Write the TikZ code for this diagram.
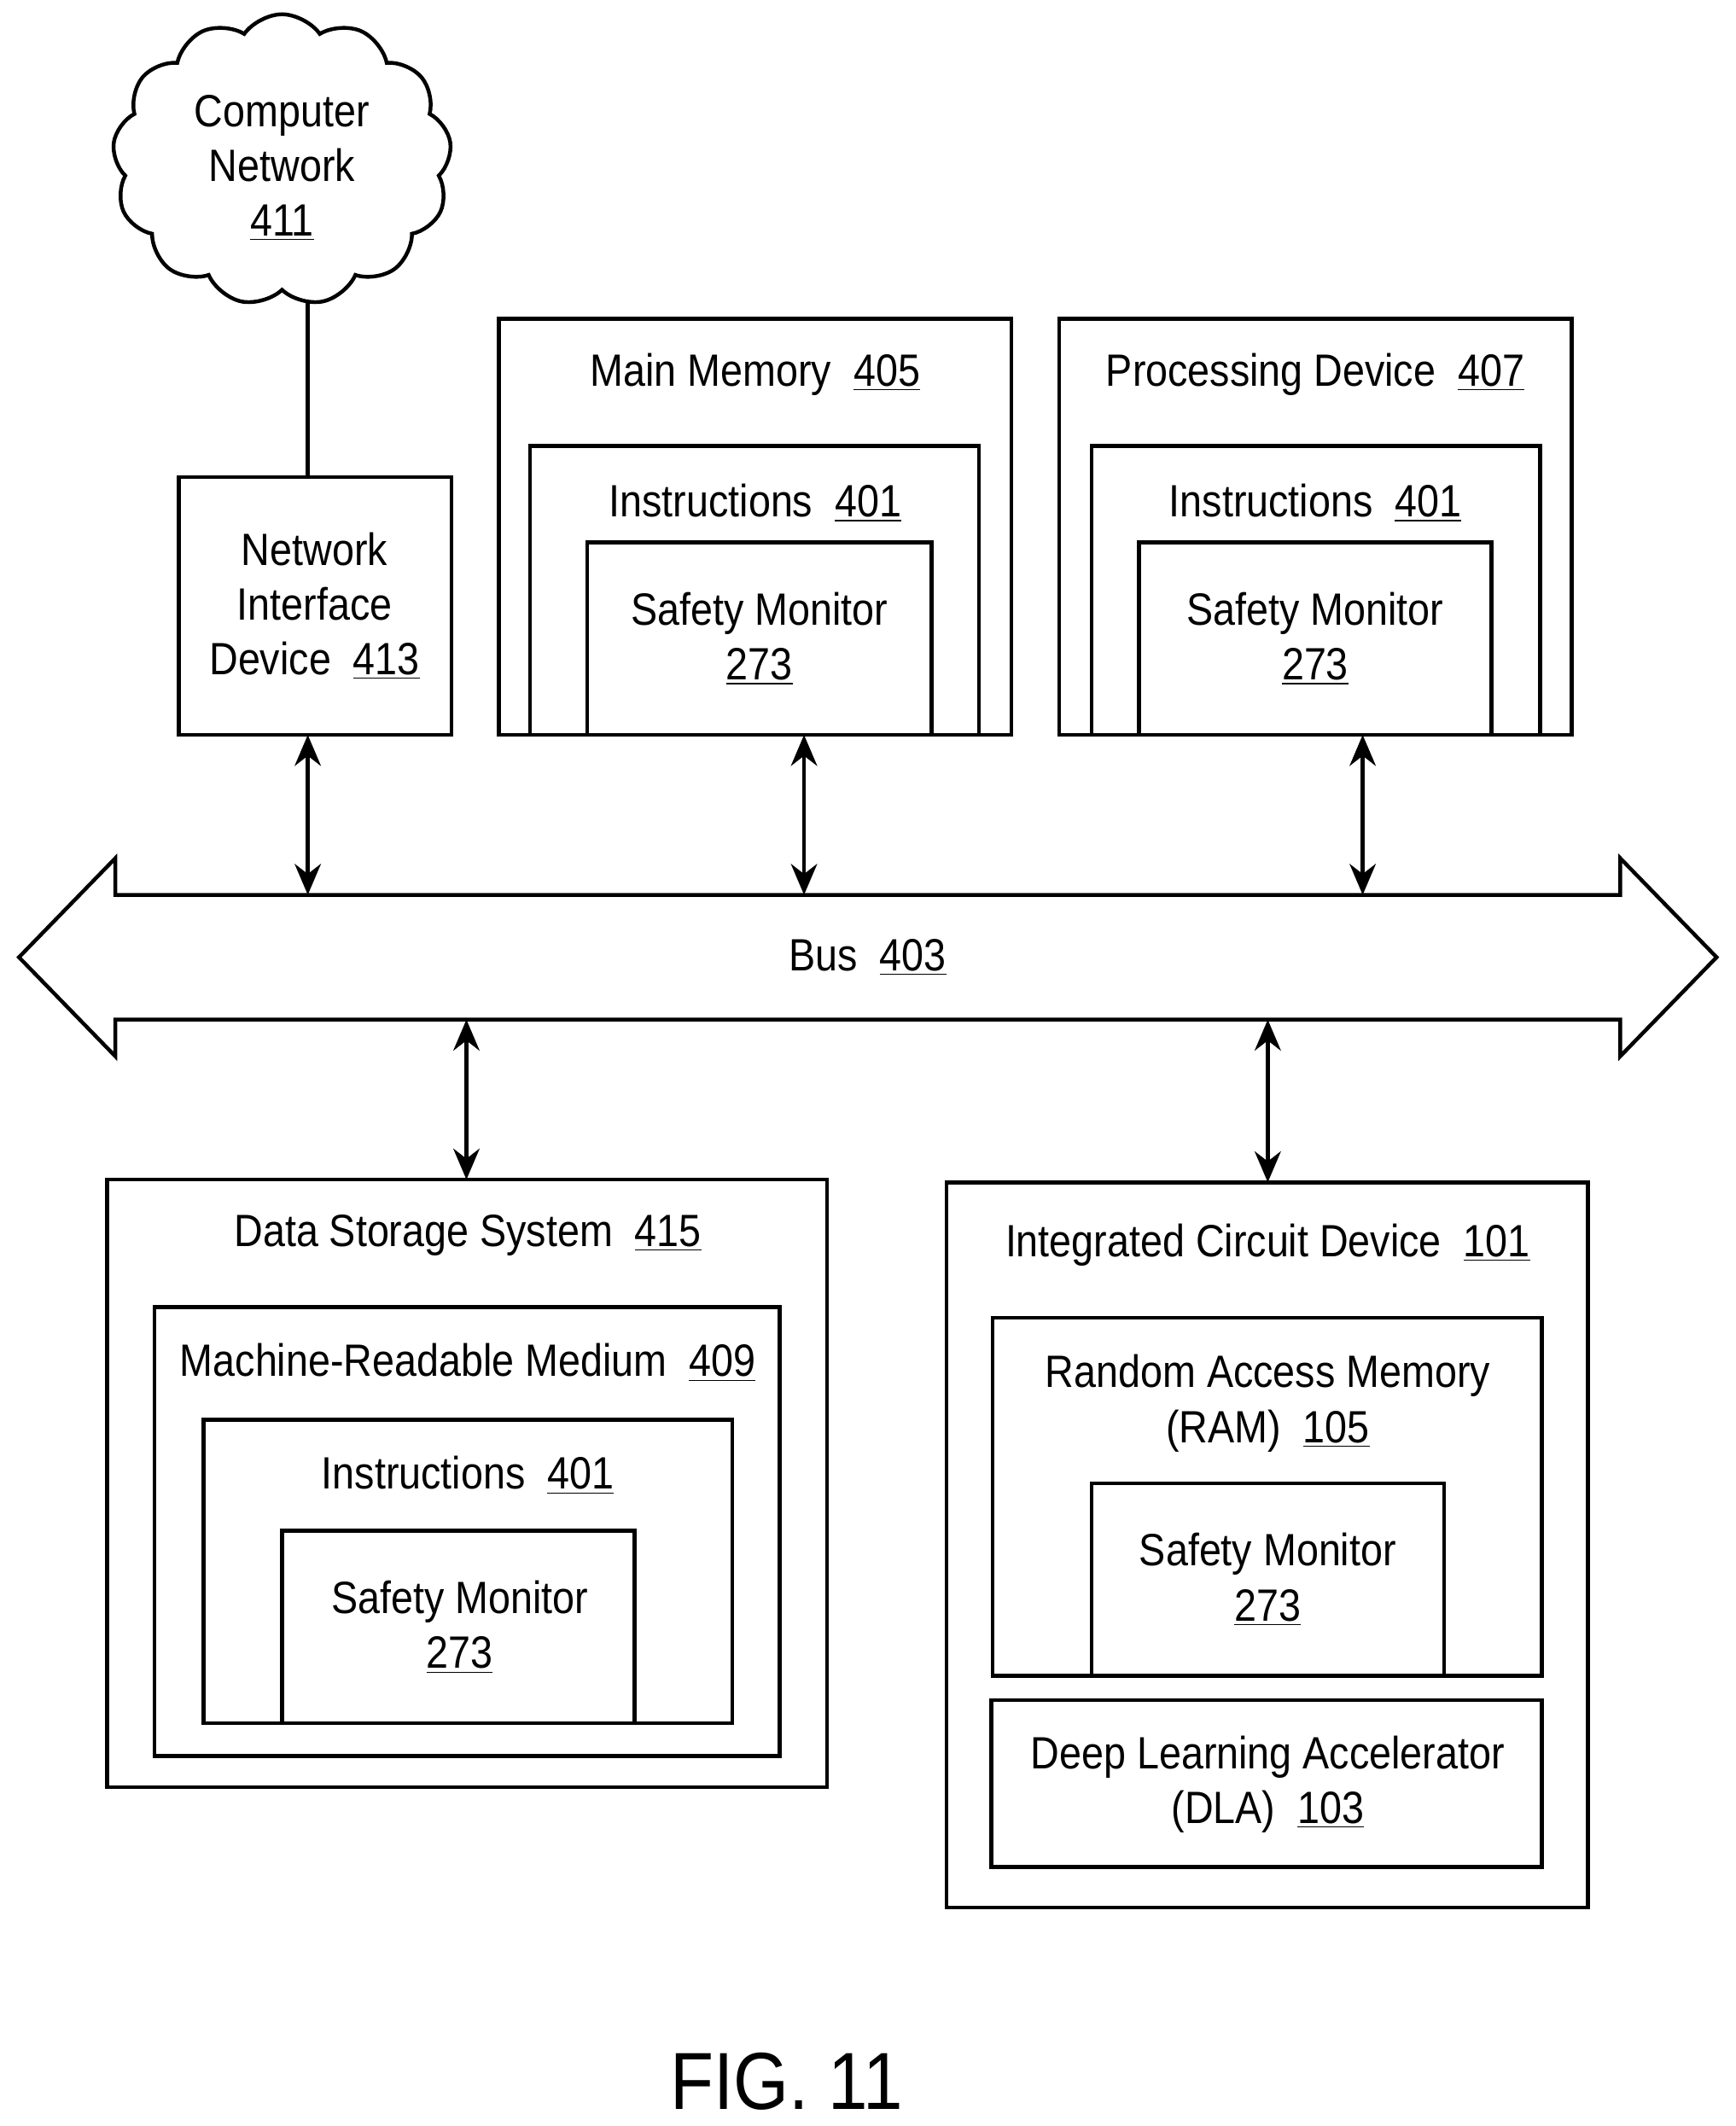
\documentclass[tikz,border=0pt]{standalone}
\usepackage{fontspec}
\setmainfont{Liberation Sans}[FakeStretch=0.88]
\usetikzlibrary{shapes.symbols,arrows.meta}
\newcommand{\ul}[1]{\underline{#1}}
\begin{document}
\begin{tikzpicture}[x=0.02cm,y=-0.02cm,
  bx/.style={draw,line width=1.6pt},
  lb/.style={font=\fontsize{19}{23}\selectfont,align=center},
  ar/.style={line width=1.6pt,{Stealth[length=13pt,width=11pt]}-{Stealth[length=13pt,width=11pt]}}]
\useasboundingbox (0,0) rectangle (1280,1568);
% cloud
\node[cloud,draw,line width=1.6pt,cloud puffs=13,cloud puff arc=110,aspect=1.1,minimum width=5.0cm,minimum height=4.3cm,inner sep=0pt] (cn) at (208,118) {};
\node[lb] at (208,124) {Computer\\Network\\\ul{411}};
% NID
\draw[bx] (132,352) rectangle (333,542);
\node[lb] (nid) at (232,447) {Network\\Interface\\Device\ \ \ul{413}};
\coordinate (nidtop) at (227,352);
\coordinate (cbot) at (227,222);
\draw[line width=1.6pt] (cbot) -- (nidtop);
% Main memory
\draw[bx] (368,235) rectangle (746,542);
\draw[bx] (391,329) rectangle (722,542);
\draw[bx] (433,400) rectangle (687,542);
\node[lb] at (557,276) {Main Memory\ \ \ul{405}};
\node[lb] at (557,371) {Instructions\ \ \ul{401}};
\node[lb] at (560,471) {Safety Monitor\\\ul{273}};
% Processing
\draw[bx] (781,235) rectangle (1159,542);
\draw[bx] (805,329) rectangle (1136,542);
\draw[bx] (840,400) rectangle (1100,542);
\node[lb] at (970,276) {Processing Device\ \ \ul{407}};
\node[lb] at (970,371) {Instructions\ \ \ul{401}};
\node[lb] at (970,471) {Safety Monitor\\\ul{273}};
% Bus
\draw[bx,line join=miter] (14,706) -- (85,633) -- (85,660) -- (1195,660) -- (1195,633) -- (1266,706) -- (1195,779) -- (1195,752) -- (85,752) -- (85,779) -- cycle;
\node[lb] (bus) at (640,706) {Bus\ \ \ul{403}};
% arrows
\coordinate (a1) at (227,542); \coordinate (b1) at (227,660);
\coordinate (a2) at (593,542); \coordinate (b2) at (593,660);
\coordinate (a3) at (1005,542); \coordinate (b3) at (1005,660);
\coordinate (a4) at (344,752); \coordinate (b4) at (344,870);
\coordinate (a5) at (935,752); \coordinate (b5) at (935,872);
\foreach \i in {1,...,5} \draw[ar] (a\i) -- (b\i);
% Data storage
\draw[bx] (79,870) rectangle (610,1318);
\draw[bx] (114,964) rectangle (575,1295);
\draw[bx] (150,1047) rectangle (540,1271);
\draw[bx] (208,1129) rectangle (468,1271);
\node[lb] at (345,911) {Data Storage System\ \ \ul{415}};
\node[lb] at (345,1005) {Machine-Readable Medium\ \ \ul{409}};
\node[lb] at (345,1088) {Instructions\ \ \ul{401}};
\node[lb] at (339,1200) {Safety Monitor\\\ul{273}};
% ICD
\draw[bx] (698,872) rectangle (1171,1407);
\draw[bx] (732,972) rectangle (1137,1236);
\draw[bx] (805,1094) rectangle (1065,1236);
\draw[bx] (731,1254) rectangle (1137,1377);
\node[lb] at (935,918) {Integrated Circuit Device\ \ \ul{101}};
\node[lb] at (935,1035) {Random Access Memory\\(RAM)\ \ \ul{105}};
\node[lb] at (935,1165) {Safety Monitor\\\ul{273}};
\node[lb] at (935,1316) {Deep Learning Accelerator\\(DLA)\ \ \ul{103}};
\node[font=\fontsize{34}{40}\selectfont] at (580,1535) {FIG. 11};
\end{tikzpicture}
\end{document}
